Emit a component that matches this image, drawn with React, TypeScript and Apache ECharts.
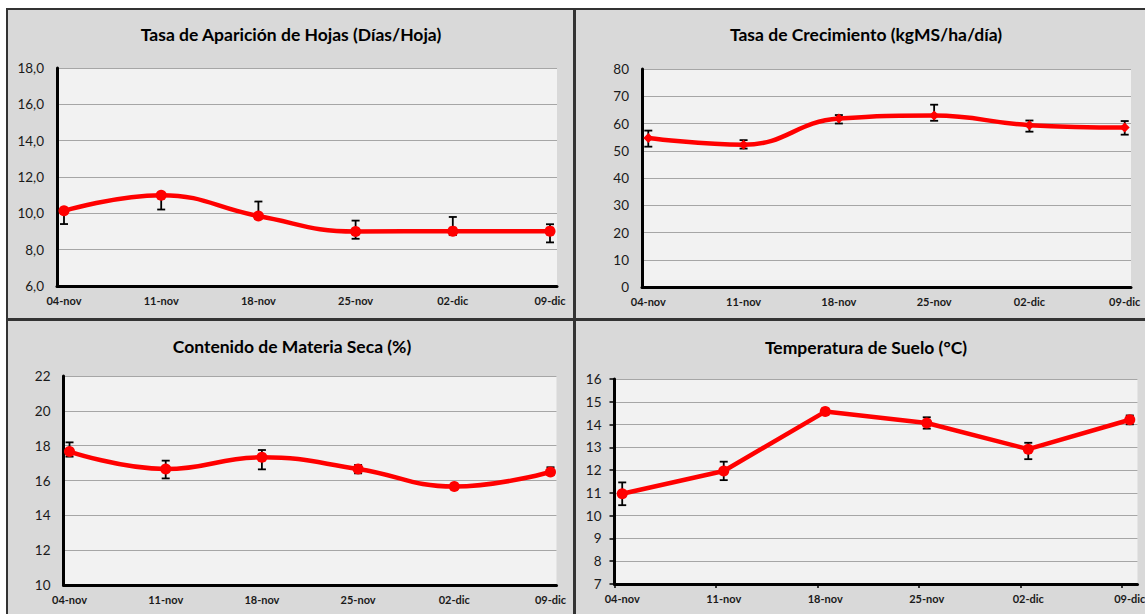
import React, { useEffect, useRef } from "react";
import * as echarts from "echarts";

// ---------- data ----------
const categories = ["04-nov", "11-nov", "18-nov", "25-nov", "02-dic", "09-dic"];

const hojasValues = [10.14, 11.0, 9.85, 9.0, 9.02, 9.02];
const hojasLow = [9.41, 10.21, 9.7, 8.6, 8.8, 8.4];
const hojasHigh = [10.3, 11.1, 10.65, 9.6, 9.8, 9.4];

const crecValues = [54.7, 52.2, 61.8, 62.9, 59.4, 58.5];
const crecLow = [51.5, 50.8, 60.0, 61.0, 57.0, 55.9];
const crecHigh = [57.4, 53.9, 63.1, 66.9, 61.1, 60.9];

const msValues = [17.66, 16.66, 17.33, 16.66, 15.65, 16.49];
const msLow = [17.37, 16.12, 16.64, 16.41, 15.55, 16.32];
const msHigh = [18.19, 17.14, 17.75, 16.89, 15.75, 16.76];

const tempValues = [10.96, 11.96, 14.57, 14.07, 12.92, 14.21];
const tempLow = [10.46, 11.56, 14.43, 13.82, 12.48, 14.01];
const tempHigh = [11.46, 12.37, 14.7, 14.32, 13.2, 14.4];

const titles = [
  "Tasa de Aparición de Hojas (Días/Hoja)",
  "Tasa de Crecimiento (kgMS/ha/día)",
  "Contenido de Materia Seca (%)",
  "Temperatura de Suelo (°C)",
];

// y-axis scales: [min, max, interval]
const yScales = [
  [6, 18, 2],
  [0, 80, 10],
  [10, 22, 2],
  [7, 16, 1],
];

const FONT = "Lato, 'Open Sans', sans-serif";
const RED = "#ff0000";

// ---------- layout ----------
const panels = [
  { grid: { left: 57, top: 68, width: 500, height: 218 }, pad: 0.072, title: [291, 34], smooth: true, symbol: "circle", symbolSize: 11, ticks: false, fmt: (v: number) => v.toFixed(1).replace(".", ",") },
  { grid: { left: 642, top: 69, width: 489, height: 218 }, pad: 0.066, title: [866, 34], smooth: true, symbol: "diamond", symbolSize: 10, ticks: false, fmt: (v: number) => String(v) },
  { grid: { left: 63.5, top: 376, width: 493, height: 209 }, pad: 0.0625, title: [292, 346], smooth: true, symbol: "circle", symbolSize: 11, ticks: false, fmt: (v: number) => String(v) },
  { grid: { left: 614.5, top: 379, width: 523, height: 205 }, pad: 0.076, title: [866, 347], smooth: false, symbol: "circle", symbolSize: 11, ticks: true, fmt: (v: number) => String(v) },
];

const valuesList = [hojasValues, crecValues, msValues, tempValues];
const lowList = [hojasLow, crecLow, msLow, tempLow];
const highList = [hojasHigh, crecHigh, msHigh, tempHigh];

function errorBarRender(params: any, api: any) {
  const x = api.value(0);
  const lo = api.coord([x, api.value(1)]);
  const hi = api.coord([x, api.value(2)]);
  const w = 4;
  const style = { stroke: "#000", lineWidth: 1.8 };
  return {
    type: "group",
    children: [
      { type: "line", shape: { x1: lo[0], y1: lo[1], x2: hi[0], y2: hi[1] }, style },
      { type: "line", shape: { x1: lo[0] - w, y1: lo[1], x2: lo[0] + w, y2: lo[1] }, style },
      { type: "line", shape: { x1: hi[0] - w, y1: hi[1], x2: hi[0] + w, y2: hi[1] }, style },
    ],
  };
}

function buildOption() {
  const idx = categories.map((_, i) => i);
  const grid: any[] = [];
  const xAxis: any[] = [];
  const yAxis: any[] = [];
  const series: any[] = [];
  const graphicEls: any[] = [];

  panels.forEach((p, k) => {
    grid.push({
      ...p.grid,
      show: true,
      backgroundColor: "#f2f2f2",
      borderWidth: 0,
      outerBoundsMode: "none",
      containLabel: false,
    });
    xAxis.push({
      type: "value",
      gridIndex: k,
      min: -p.pad,
      max: categories.length - 1 + p.pad,
      axisLine: { show: true, onZero: false, lineStyle: { color: "#000", width: 3 } },
      axisTick: p.ticks
        ? { show: true, customValues: idx.map((i) => i - p.pad), length: 4, lineStyle: { color: "#000", width: 1.5 } }
        : { show: false },
      splitLine: { show: false },
      axisLabel: {
        customValues: idx,
        formatter: (v: number) => categories[Math.round(v)],
        fontFamily: FONT,
        fontWeight: "bold",
        fontSize: 11,
        color: "#1a1a1a",
        margin: 9,
      },
    });
    const [mn, mx, iv] = yScales[k];
    yAxis.push({
      type: "value",
      gridIndex: k,
      min: mn,
      max: mx,
      interval: iv,
      axisLine: { show: true, onZero: false, lineStyle: { color: "#000", width: 3 } },
      axisTick: p.ticks
        ? { show: true, length: 5, lineStyle: { color: "#000", width: 1.5 } }
        : { show: false },
      splitLine: { show: true, lineStyle: { color: "#a6a6a6", width: 1 } },
      axisLabel: {
        formatter: p.fmt,
        fontFamily: FONT,
        fontSize: 13.5,
        color: "#1a1a1a",
        margin: 13,
      },
    });
    series.push({
      type: "custom",
      xAxisIndex: k,
      yAxisIndex: k,
      renderItem: errorBarRender,
      encode: { x: 0, y: [1, 2] },
      data: lowList[k].map((lo, i) => [i, lo, highList[k][i]]),
      z: 2,
    });
    series.push({
      type: "line",
      xAxisIndex: k,
      yAxisIndex: k,
      data: valuesList[k].map((v, i) => [i, v]),
      smooth: p.smooth ? 0.45 : false,
      symbol: p.symbol,
      symbolSize: p.symbolSize,
      showSymbol: true,
      lineStyle: { color: RED, width: 4.5 },
      itemStyle: { color: RED },
      z: 3,
    });
    graphicEls.push({
      type: "text",
      x: p.title[0],
      y: p.title[1],
      style: {
        text: titles[k],
        fontFamily: FONT,
        fontWeight: "bold",
        fontSize: 17.5,
        fill: "#000",
        textAlign: "center",
        textVerticalAlign: "middle",
      },
    });
  });

  return {
    animation: false,
    grid,
    xAxis,
    yAxis,
    series,
    graphic: { elements: graphicEls },
  };
}

export default function App() {
  const ref = useRef<HTMLDivElement>(null);
  useEffect(() => {
    if (!ref.current) return;
    const chart = echarts.init(ref.current, undefined, { renderer: "svg" });
    chart.setOption(buildOption() as any);
    return () => chart.dispose();
  }, []);

  const line = (s: React.CSSProperties) => (
    <div style={{ position: "absolute", background: "#333", ...s }} />
  );

  return (
    <div style={{ position: "absolute", left: 0, top: 0, width: 1145, height: 614, overflow: "hidden", background: "#fff" }}>
      <div style={{ position: "absolute", left: 7, top: 9, width: 1138, height: 605, background: "#d9d9d9" }} />
      {line({ left: 7, top: 8, width: 1138, height: 2 })}
      {line({ left: 6, top: 8, width: 2, height: 606 })}
      {line({ left: 573, top: 8, width: 3, height: 606 })}
      {line({ left: 7, top: 318, width: 1138, height: 3 })}
      <div ref={ref} style={{ position: "absolute", left: 0, top: 0, width: 1145, height: 614 }} />
    </div>
  );
}
